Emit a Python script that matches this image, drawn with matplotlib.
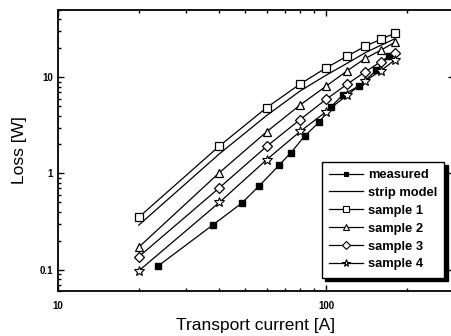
import matplotlib
matplotlib.use('Agg')
import matplotlib.pyplot as plt
from matplotlib.ticker import FixedLocator, NullFormatter
from matplotlib.lines import Line2D

plt.rcParams['font.family'] = ['Liberation Sans', 'DejaVu Sans']

# data (log-log)
current_meas = [23.6, 37.9, 48.4, 56.4, 67, 74, 83.3, 94.2, 104.4, 115.7, 133, 154, 171]
loss_meas = [0.109, 0.293, 0.49, 0.746, 1.23, 1.65, 2.46, 3.41, 4.94, 6.58, 8.14, 11.8, 16.6]

current_samp = [20, 40, 60, 80, 100, 120, 140, 160, 180]
loss_strip = [0.29, 1.6, 4.0, 7.2, 10.5, 14.0, 18.0, 21.5, 25.0]
loss_s1 = [0.35, 1.93, 4.83, 8.5, 12.5, 16.6, 21.0, 24.8, 28.6]
loss_s2 = [0.171, 1.02, 2.71, 5.15, 8.08, 11.7, 15.7, 19.1, 23.0]
loss_s3 = [0.136, 0.71, 1.91, 3.63, 5.89, 8.5, 11.4, 14.5, 18.0]
loss_s4 = [0.097, 0.50, 1.39, 2.73, 4.39, 6.52, 9.17, 11.7, 15.0]

fig = plt.figure(figsize=(4.51, 3.36), dpi=100)
ax = fig.add_axes([58 / 451, 45 / 336, 396 / 451, 281 / 336])

lw = 0.9
ax.plot(current_meas, loss_meas, '-', color='black', lw=lw, marker='s', ms=3.8,
        mfc='black', mec='black', label='measured')
ax.plot(current_samp, loss_strip, '-', color='black', lw=lw, label='strip model')
ax.plot(current_samp, loss_s1, '-', color='black', lw=lw, marker='s', ms=5.2,
        mfc='white', mec='black', mew=0.9, label='sample 1')
ax.plot(current_samp, loss_s2, '-', color='black', lw=lw, marker='^', ms=6.2,
        mfc='white', mec='black', mew=0.9, label='sample 2')
ax.plot(current_samp, loss_s3, '-', color='black', lw=lw, marker='D', ms=5,
        mfc='white', mec='black', mew=0.9, label='sample 3')
ax.plot(current_samp, loss_s4, '-', color='black', lw=lw, marker='*', ms=7,
        mfc='white', mec='black', mew=0.8, label='sample 4')

ax.set_xscale('log')
ax.set_yscale('log')
ax.set_xlim(10, 300)
ax.set_ylim(0.06, 50)

ax.xaxis.set_major_locator(FixedLocator([10, 100]))
ax.set_xticklabels(['10', '100'])
ax.yaxis.set_major_locator(FixedLocator([0.1, 1, 10]))
ax.set_yticklabels(['0.1', '1', '10'])
ax.xaxis.set_minor_formatter(NullFormatter())
ax.yaxis.set_minor_formatter(NullFormatter())
ax.tick_params(which='both', direction='in', top=True, right=True, labelsize=7, width=1)
ax.tick_params(axis='x', pad=7)
ax.tick_params(which='major', length=4)
ax.tick_params(which='minor', length=2.5)
for lab in ax.get_xticklabels() + ax.get_yticklabels():
    lab.set_fontweight('bold')
for s in ax.spines.values():
    s.set_linewidth(1.3)

ax.set_xlabel('Transport current [A]', fontsize=12.5, labelpad=5)
ax.set_ylabel('Loss [W]', fontsize=12.5, labelpad=9)

# smaller markers in the legend, as in the reference
handles, labels = ax.get_legend_handles_labels()
leg_handles = []
for h in handles:
    nh = Line2D([], [], color='black', lw=lw, marker=h.get_marker(),
                ms=h.get_markersize() * 0.8, mfc=h.get_markerfacecolor(),
                mec='black', mew=0.8)
    leg_handles.append(nh)

leg = ax.legend(leg_handles, labels, loc='upper left',
                bbox_to_anchor=(322 / 451, 1 - 162 / 336),
                bbox_transform=fig.transFigure, borderaxespad=0, fancybox=False,
                shadow={'ox': 2.5, 'oy': -2.5, 'color': 'black', 'alpha': 1},
                edgecolor='black', framealpha=1, fontsize=9.3, handlelength=2.6,
                labelspacing=0.45, handletextpad=0.4, borderpad=0.55)
leg.get_frame().set_linewidth(1.0)
for t in leg.get_texts():
    t.set_fontweight('bold')

fig.savefig('out.png', dpi=100)
